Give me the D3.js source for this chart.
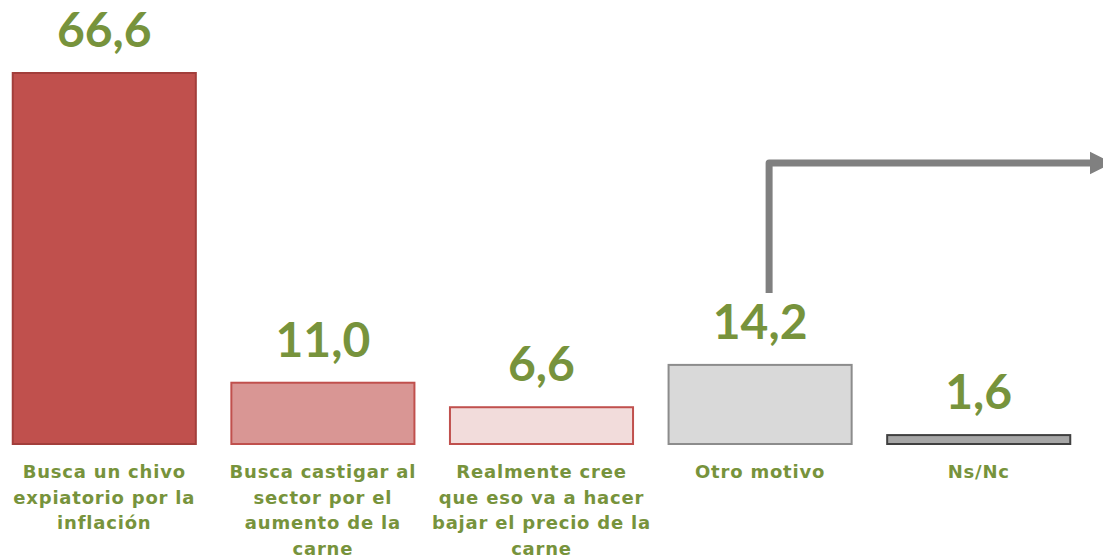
<!DOCTYPE html>
<html>
<head>
<meta charset="utf-8">
<script src="https://cdn.jsdelivr.net/npm/d3@7"></script>
<style>
  body { margin: 0; background: #fff; }
  svg { display: block; }
</style>
</head>
<body>
<svg id="chart" width="1103" height="560"></svg>
<script>
// Data
const categories = [
  "Busca un chivo expiatorio por la inflación",
  "Busca castigar al sector por el aumento de la carne",
  "Realmente cree que eso va a hacer bajar el precio de la carne",
  "Otro motivo",
  "Ns/Nc"
];
const labelLines = [
  ["Busca un chivo", "expiatorio por la", "inflación"],
  ["Busca castigar al", "sector por el", "aumento de la", "carne"],
  ["Realmente cree", "que eso va a hacer", "bajar el precio de la", "carne"],
  ["Otro motivo"],
  ["Ns/Nc"]
];
const values = [66.6, 11.0, 6.6, 14.2, 1.6];
const fills = ["#C0504D", "#D99694", "#F2DCDB", "#D9D9D9", "#A6A6A6"];
const strokes = ["#A23E3B", "#C0504D", "#C0504D", "#8C8C8C", "#404040"];

const GREEN = "#77933C";
const svg = d3.select("#chart");

const baseline = 444;
const x = d3.scaleBand()
  .domain(categories)
  .range([-4.75, 1087.75])
  .paddingInner(0.1625)
  .paddingOuter(0.08);

const y = d3.scaleLinear()
  .domain([0, 66.6])
  .range([baseline, 73]);

// Bars
svg.selectAll("rect.bar")
  .data(values)
  .join("rect")
  .attr("class", "bar")
  .attr("x", (d, i) => x(categories[i]))
  .attr("y", d => y(d))
  .attr("width", x.bandwidth())
  .attr("height", d => baseline - y(d))
  .attr("fill", (d, i) => fills[i])
  .attr("stroke", (d, i) => strokes[i])
  .attr("stroke-width", 2);

// Value labels
svg.selectAll("text.value")
  .data(values)
  .join("text")
  .attr("class", "value")
  .attr("x", (d, i) => x(categories[i]) + x.bandwidth() / 2)
  .attr("y", d => y(d) - 26)
  .attr("text-anchor", "middle")
  .attr("font-family", "Lato, 'Open Sans', sans-serif")
  .attr("font-weight", 700)
  .attr("font-size", 48)
  .attr("fill", GREEN)
  .text(d => d3.format(".1f")(d).replace(".", ","));

// Category labels
labelLines.forEach((lines, i) => {
  const cx = x(categories[i]) + x.bandwidth() / 2;
  const t = svg.append("text")
    .attr("x", cx)
    .attr("y", 478)
    .attr("text-anchor", "middle")
    .attr("font-family", "'DejaVu Sans', Verdana, sans-serif")
    .attr("font-weight", 700)
    .attr("font-size", 18)
    .attr("letter-spacing", 0.8)
    .attr("fill", GREEN);
  lines.forEach((ln, j) => {
    t.append("tspan")
      .attr("x", cx)
      .attr("dy", j === 0 ? 0 : 25.5)
      .text(ln);
  });
});

// Arrow from "Otro motivo" going right
const defs = svg.append("defs");
defs.append("marker")
  .attr("id", "arrowhead")
  .attr("viewBox", "0 0 10 10")
  .attr("refX", 0)
  .attr("refY", 5)
  .attr("markerWidth", 3.2)
  .attr("markerHeight", 3.6)
  .attr("markerUnits", "strokeWidth")
  .attr("orient", "auto")
  .append("path")
  .attr("d", "M0,0 L10,5 L0,10 Z")
  .attr("fill", "#808080");

const ax = x(categories[3]) + x.bandwidth() / 2 + 9;
svg.append("path")
  .attr("d", `M${ax},${y(14.2) - 72} V163 H1090`)
  .attr("fill", "none")
  .attr("stroke", "#808080")
  .attr("stroke-width", 7)
  .attr("stroke-linejoin", "round")
  .attr("marker-end", "url(#arrowhead)");
</script>
</body>
</html>
